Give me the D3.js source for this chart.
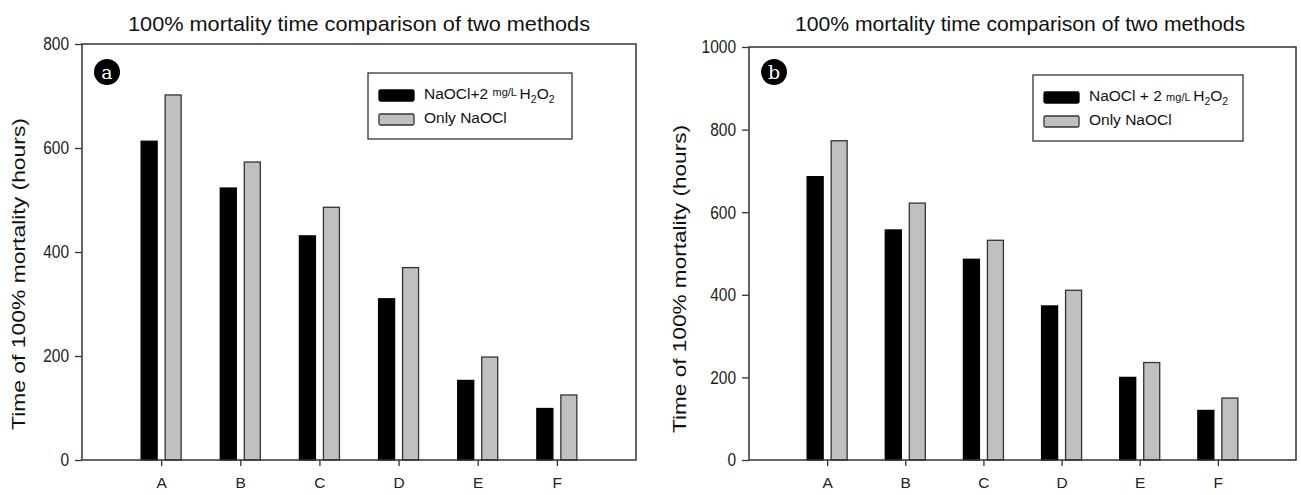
<!DOCTYPE html>
<html>
<head>
<meta charset="utf-8">
<script src="https://cdn.jsdelivr.net/npm/d3@7"></script>
<style>
  body { margin: 0; background: #fff; }
  svg { display: block; font-family: "Liberation Sans", Arial, sans-serif; }
</style>
</head>
<body>
<div id="chart"></div>
<script>
const categories = ["A", "B", "C", "D", "E", "F"];
const seriesNames = ["NaOCl+2 mg/L H2O2", "Only NaOCl"];

// panel a
const combinedA = [613, 523, 431, 310, 153, 99];
const onlyA = [702, 573, 486, 370, 198, 125];
const ticksA = [0, 200, 400, 600, 800];

// panel b
const combinedB = [686, 557, 486, 373, 200, 120];
const onlyB = [773, 622, 532, 411, 236, 150];
const ticksB = [0, 200, 400, 600, 800, 1000];

const width = 1301, height = 495;
const svg = d3.select("#chart").append("svg")
  .attr("width", width)
  .attr("height", height);

const fills = ["#000", "#c0c0c0"];
const strokes = ["#000", "#333"];

function panel(opt) {
  const g = svg.append("g");
  const x = d3.scaleLinear().domain([0, categories.length + 1]).range([opt.left, opt.right]);
  const y = d3.scaleLinear().domain([0, opt.max]).range([opt.bottom, opt.top]);

  // title
  g.append("text")
    .attr("x", opt.titleX)
    .attr("y", opt.titleY)
    .attr("text-anchor", "middle")
    .attr("font-size", 21)
    .attr("textLength", opt.titleLen)
    .attr("lengthAdjust", "spacingAndGlyphs")
    .attr("fill", "#111")
    .text("100% mortality time comparison of two methods");

  // bars
  const series = [opt.s1, opt.s2];
  series.forEach((vals, si) => {
    g.append("g").selectAll("rect")
      .data(vals)
      .join("rect")
      .attr("x", (d, i) => x(i + 1) + (si === 0 ? -opt.gap / 2 - opt.barW : opt.gap / 2))
      .attr("y", d => y(d))
      .attr("width", opt.barW)
      .attr("height", d => y(0) - y(d))
      .attr("fill", fills[si])
      .attr("stroke", strokes[si])
      .attr("stroke-width", 1.3);
  });

  // frame
  g.append("rect")
    .attr("x", opt.left)
    .attr("y", opt.top)
    .attr("width", opt.right - opt.left)
    .attr("height", opt.bottom - opt.top)
    .attr("fill", "none")
    .attr("stroke", "#333")
    .attr("stroke-width", 1.5);

  // axes
  const yAxis = d3.axisLeft(y).tickValues(opt.ticks).tickSize(7).tickPadding(6).tickFormat(d3.format("d"));
  const ya = g.append("g").attr("transform", `translate(${opt.left},0)`).call(yAxis);
  ya.select(".domain").remove();
  ya.selectAll("line").attr("stroke", "#333").attr("stroke-width", 1.3);
  ya.selectAll("text")
    .attr("font-size", 15.5)
    .attr("fill", "#222")
    .attr("font-family", "Liberation Sans, Arial, sans-serif")
    .attr("transform", "scale(1,1.2)");

  const xAxis = d3.axisBottom(x).tickValues(d3.range(1, categories.length + 1))
    .tickFormat(d => categories[d - 1]).tickSize(6).tickPadding(11);
  const xa = g.append("g").attr("transform", `translate(0,${opt.bottom})`).call(xAxis);
  xa.select(".domain").remove();
  xa.selectAll("line").attr("stroke", "#333").attr("stroke-width", 1.3);
  xa.selectAll("text")
    .attr("font-size", 15.5)
    .attr("fill", "#222")
    .attr("font-family", "Liberation Sans, Arial, sans-serif");

  // y label
  g.append("text")
    .attr("transform", `translate(${opt.ylabX},${opt.ylabY}) rotate(-90)`)
    .attr("text-anchor", "middle")
    .attr("font-size", 19)
    .attr("textLength", opt.ylabLen)
    .attr("lengthAdjust", "spacingAndGlyphs")
    .attr("fill", "#111")
    .text("Time of 100% mortality (hours)");

  // panel letter
  g.append("circle").attr("cx", opt.left + 25).attr("cy", 72).attr("r", 13).attr("fill", "#000");
  g.append("text")
    .attr("x", opt.left + 25).attr("y", 79)
    .attr("text-anchor", "middle")
    .attr("font-family", "DejaVu Serif, Liberation Serif, serif")
    .attr("font-size", 19)
    .attr("fill", "#fff")
    .text(opt.letter);

  // legend
  const lg = g.append("g").attr("transform", `translate(${opt.legX},${opt.legY})`);
  lg.append("rect")
    .attr("width", opt.legW).attr("height", 66)
    .attr("fill", "#fff").attr("stroke", "#333").attr("stroke-width", 1.3);
  seriesNames.forEach((name, i) => {
    lg.append("rect")
      .attr("x", 11).attr("y", 17 + i * 24)
      .attr("width", 35).attr("height", 11).attr("rx", 1.5)
      .attr("fill", fills[i]).attr("stroke", strokes[i]).attr("stroke-width", 1.3);
    const t = lg.append("text")
      .attr("x", 56).attr("y", 26 + i * 24)
      .attr("font-size", 15.5)
      .attr("fill", "#111");
    if (i === 0) {
      t.append("tspan").text(opt.legSep ? "NaOCl + 2 " : "NaOCl+2 ");
      t.append("tspan").attr("font-size", 11).attr("dy", opt.legSep ? 0 : -3).text("mg/L ");
      t.append("tspan").attr("dy", opt.legSep ? 0 : 3).text("H");
      t.append("tspan").attr("font-size", 10.5).attr("dy", 4).text("2");
      t.append("tspan").attr("dy", -4).text("O");
      t.append("tspan").attr("font-size", 10.5).attr("dy", 4).text("2");
    } else {
      t.text("Only NaOCl");
    }
  });
}

panel({
  s1: combinedA, s2: onlyA, ticks: ticksA, max: 800,
  left: 82, right: 636, top: 44, bottom: 460,
  barW: 16, gap: 8,
  titleX: 359, titleY: 31, titleLen: 462,
  ylabX: 25, ylabY: 274, ylabLen: 312,
  letter: "a",
  legX: 368, legY: 73, legW: 204, legSep: false
});

panel({
  s1: combinedB, s2: onlyB, ticks: ticksB, max: 1000,
  left: 749, right: 1296, top: 47, bottom: 460,
  barW: 16, gap: 8,
  titleX: 1020, titleY: 31, titleLen: 450,
  ylabX: 686, ylabY: 279, ylabLen: 308,
  letter: "b",
  legX: 1033, legY: 75, legW: 210, legSep: true
});
</script>
</body>
</html>
